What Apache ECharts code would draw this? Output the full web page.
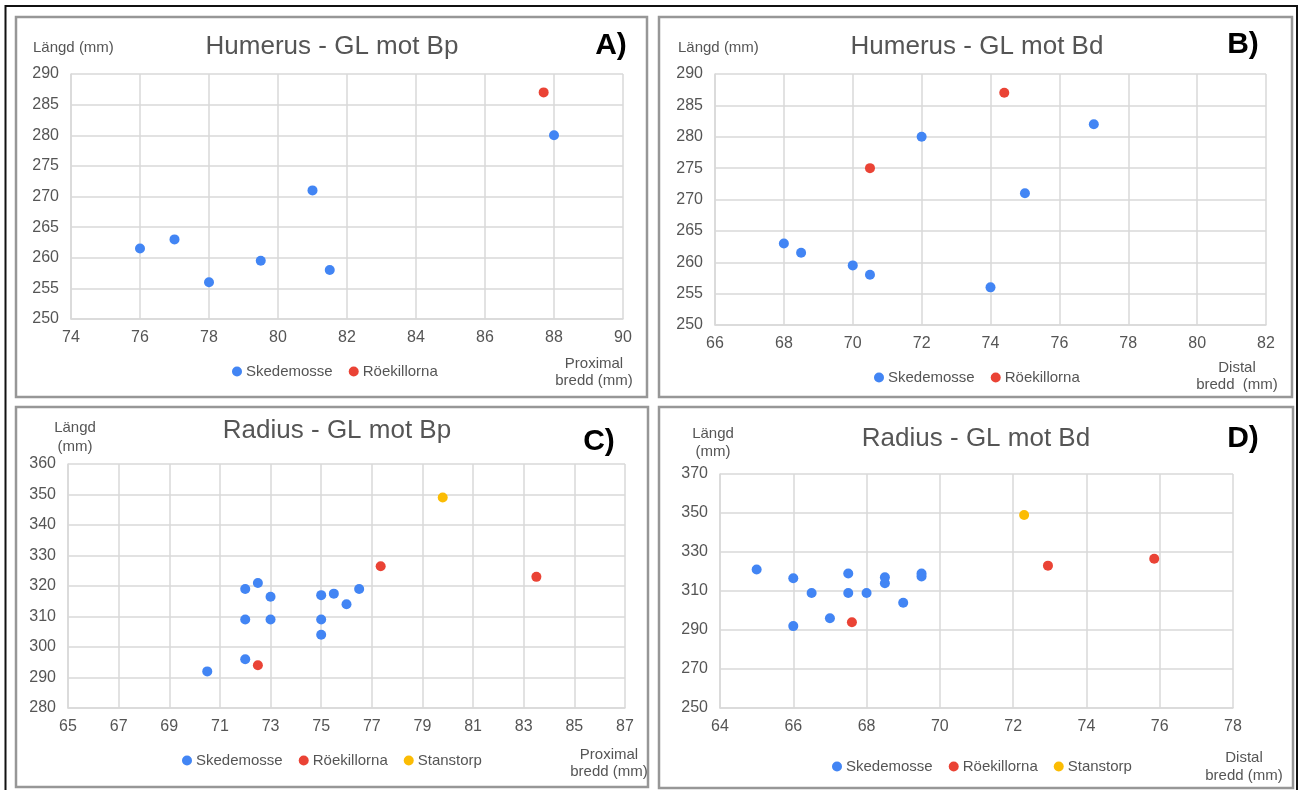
<!DOCTYPE html>
<html>
<head>
<meta charset="utf-8">
<title>Humerus och radius – GL mot Bp/Bd</title>
<script src="https://cdn.jsdelivr.net/npm/echarts@6/dist/echarts.min.js"></script>
<style>
  html, body { margin: 0; padding: 0; background: #ffffff; }
  #chart { width: 1299px; height: 790px; }
</style>
</head>
<body>
<div id="chart"></div>
<script>
// ---- Measurements: [bredd (mm), längd (mm)] ----
const humerusBpSkedemosse = [[76, 261.5], [77, 263], [78, 256], [79.5, 259.5], [81, 271], [81.5, 258], [88, 280]];
const humerusBpRoekillorna = [[87.7, 287]];

const humerusBdSkedemosse = [[68, 263], [68.5, 261.5], [70, 259.5], [70.5, 258], [72, 280], [74, 256], [75, 271], [77, 282]];
const humerusBdRoekillorna = [[70.5, 275], [74.4, 287]];

const radiusBpSkedemosse = [[70.5, 292], [72, 296], [75, 304], [72, 309], [73, 309], [75, 309], [76, 314],
  [73, 316.5], [75, 317], [75.5, 317.5], [72, 319], [76.5, 319], [72.5, 321]];
const radiusBpRoekillorna = [[72.5, 294], [77.35, 326.5], [83.5, 323]];
const radiusBpStanstorp = [[79.8, 349]];

const radiusBdSkedemosse = [[66, 292], [67, 296], [69, 304], [66.5, 309], [67.5, 309], [68, 309], [68.5, 314],
  [66, 316.5], [68.5, 317], [69.5, 317.5], [67.5, 319], [69.5, 319], [65, 321]];
const radiusBdRoekillorna = [[67.6, 294], [72.95, 323], [75.85, 326.5]];
const radiusBdStanstorp = [[72.3, 349]];

// ---- Tick labels ----
const radiusBpXTicks = [65, 67, 69, 71, 73, 75, 77, 79, 81, 83, 85, 87];

// ---- Series names & colours ----
const seriesNames = ['Skedemosse', 'Röekillorna', 'Stanstorp'];
const seriesColors = ['#4285f4', '#ea4335', '#fbbc04'];

const FONT = '"Liberation Sans", Arial, sans-serif';
const LABEL_COLOR = '#555555';
const GRID_COLOR = '#d9d9d9';

const grids = [
  { left: 71, top: 74, width: 552, height: 245 },
  { left: 715, top: 74, width: 551, height: 251 },
  { left: 68, top: 464, width: 557, height: 244 },
  { left: 720, top: 474, width: 513, height: 234 }
];

function valueAxis(gridIndex, min, max, interval, extra) {
  const ax = {
    type: 'value',
    gridIndex: gridIndex,
    min: min,
    max: max,
    interval: interval,
    axisLine: { show: true, lineStyle: { color: GRID_COLOR, width: 1.5 } },
    axisTick: { show: false },
    splitLine: { show: true, lineStyle: { color: GRID_COLOR, width: 1.5 } },
    axisLabel: { color: LABEL_COLOR, fontSize: 16, fontFamily: FONT, margin: 11 }
  };
  return Object.assign(ax, extra || {});
}

const xAxes = [
  valueAxis(0, 74, 90, 2),
  valueAxis(1, 66, 82, 2),
  valueAxis(2, 65, 87, 2, {
    axisTick: { show: false, customValues: radiusBpXTicks },
    axisLabel: { color: LABEL_COLOR, fontSize: 16, fontFamily: FONT, margin: 11, customValues: radiusBpXTicks }
  }),
  valueAxis(3, 64, 78, 2)
];
const yAxes = [
  valueAxis(0, 250, 290, 5),
  valueAxis(1, 250, 290, 5),
  valueAxis(2, 280, 360, 10),
  valueAxis(3, 250, 370, 20)
];
yAxes.forEach(a => { a.axisLabel.margin = 12; });

function scatter(nameIdx, data, gi) {
  return {
    type: 'scatter',
    name: seriesNames[nameIdx],
    data: data,
    xAxisIndex: gi,
    yAxisIndex: gi,
    symbol: 'circle',
    symbolSize: 10,
    itemStyle: { color: seriesColors[nameIdx], opacity: 1 },
    silent: true
  };
}

const series = [
  scatter(0, humerusBpSkedemosse, 0),
  scatter(1, humerusBpRoekillorna, 0),
  scatter(0, humerusBdSkedemosse, 1),
  scatter(1, humerusBdRoekillorna, 1),
  scatter(0, radiusBpSkedemosse, 2),
  scatter(1, radiusBpRoekillorna, 2),
  scatter(2, radiusBpStanstorp, 2),
  scatter(0, radiusBdSkedemosse, 3),
  scatter(1, radiusBdRoekillorna, 3),
  scatter(2, radiusBdStanstorp, 3)
];

function legend(left, top, names) {
  return {
    left: left,
    top: top,
    orient: 'horizontal',
    selectedMode: false,
    icon: 'circle',
    itemWidth: 10,
    itemHeight: 10,
    itemGap: 16,
    padding: 0,
    data: names,
    textStyle: { color: LABEL_COLOR, fontSize: 15, fontFamily: FONT, padding: [0, 0, 0, -1] }
  };
}

const legends = [
  legend(232, 364, seriesNames.slice(0, 2)),
  legend(874, 370, seriesNames.slice(0, 2)),
  legend(182, 753, seriesNames),
  legend(832, 759, seriesNames)
];

function txt(x, y, text, size, opts) {
  opts = opts || {};
  return {
    type: 'text',
    x: x,
    y: y,
    silent: true,
    style: {
      text: text,
      fill: opts.color || LABEL_COLOR,
      font: (opts.bold ? 'bold ' : '') + size + 'px ' + FONT,
      align: opts.align || 'center',
      verticalAlign: 'middle',
      lineHeight: opts.lineHeight || size
    }
  };
}

function panel(x1, y1, x2, y2) {
  return {
    type: 'rect',
    silent: true,
    shape: { x: x1, y: y1, width: x2 - x1, height: y2 - y1 },
    style: { fill: null, stroke: '#979797', lineWidth: 2.5 }
  };
}

const graphics = [
  // outer frame
  { type: 'rect', silent: true, shape: { x: 5.5, y: 6, width: 1291.5, height: 800 },
    style: { fill: null, stroke: '#111111', lineWidth: 2 } },
  panel(16, 17, 647, 397),
  panel(659, 17, 1292, 397),
  panel(16, 407, 648, 787),
  panel(659, 407, 1293, 788),

  // panel titles
  txt(332, 47, 'Humerus - GL mot Bp', 26),
  txt(977, 47, 'Humerus - GL mot Bd', 26),
  txt(337, 431, 'Radius - GL mot Bp', 26),
  txt(976, 439, 'Radius - GL mot Bd', 26),

  // panel letters
  txt(611, 46, 'A)', 30, { bold: true, color: '#000000' }),
  txt(1243, 45, 'B)', 30, { bold: true, color: '#000000' }),
  txt(599, 442, 'C)', 30, { bold: true, color: '#000000' }),
  txt(1243, 439, 'D)', 30, { bold: true, color: '#000000' }),

  // y axis names
  txt(33, 48, 'Längd (mm)', 15, { align: 'left' }),
  txt(678, 48, 'Längd (mm)', 15, { align: 'left' }),
  txt(75, 437, 'Längd\n(mm)', 15, { lineHeight: 19 }),
  txt(713, 443, 'Längd\n(mm)', 15, { lineHeight: 18 }),

  // x axis names
  txt(594, 372, 'Proximal\nbredd (mm)', 15, { lineHeight: 17 }),
  txt(1237, 376, 'Distal\nbredd  (mm)', 15, { lineHeight: 17 }),
  txt(609, 763, 'Proximal\nbredd (mm)', 15, { lineHeight: 17 }),
  txt(1244, 767, 'Distal\nbredd (mm)', 15, { lineHeight: 18 })
];

const chart = echarts.init(document.getElementById('chart'), null, { renderer: 'canvas' });
chart.setOption({
  animation: false,
  backgroundColor: '#ffffff',
  grid: grids,
  xAxis: xAxes,
  yAxis: yAxes,
  legend: legends,
  series: series,
  graphic: graphics
});
</script>
</body>
</html>
